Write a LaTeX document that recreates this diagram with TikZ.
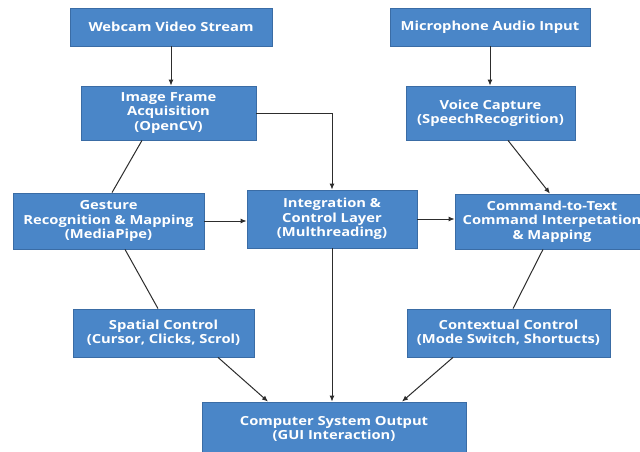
\documentclass[tikz,border=0pt]{standalone}
\usepackage{fontspec}
\setmainfont[FakeStretch=1.18]{Open Sans}
\usetikzlibrary{arrows.meta,calc}
\definecolor{boxfill}{RGB}{74,134,200}
\definecolor{boxline}{RGB}{58,108,165}
\definecolor{linecol}{RGB}{45,45,45}
\tikzset{
  blk/.style={draw=boxline, line width=0.8pt, fill=boxfill, text=white, align=center,
    font=\bfseries\fontsize{12.5}{14.3}\selectfont, inner sep=0pt, anchor=center},
  conn/.style={draw=linecol, line width=1pt},
  arr/.style={conn, -{Latex[length=6pt,width=5pt]}}
}
\begin{document}
\begin{tikzpicture}[x=1pt,y=-1pt]
\clip (0,0) rectangle (640,452);
\fill[white] (0,0) rectangle (640,452);
\node[blk, minimum width=202pt, minimum height=38pt] (webcam) at (171,27) {Webcam Video Stream};
\node[blk, minimum width=175pt, minimum height=54pt] (image) at (168.5,113) {Image Frame\\Acquisition\\(OpenCV)};
\node[blk, minimum width=200pt, minimum height=38pt] (mic) at (490,27) {Microphone Audio Input};
\node[blk, minimum width=169pt, minimum height=54pt] (voice) at (490.5,113) {Voice Capture\\(SpeechRecogrition)};
\node[blk, minimum width=191pt, minimum height=56pt] (gesture) at (108.5,221) {Gesture\\Recognition \& Mapping\\(MediaPipe)};
\node[blk, minimum width=170pt, minimum height=58pt] (integ) at (332,219) {Integration \&\\Control Layer\\(Multhreading)};
\node[blk, minimum width=194pt, minimum height=55pt] (command) at (552,221.5) {Command-to-Text\\Command Interpetation\\\& Mapping};
\node[blk, minimum width=181pt, minimum height=48pt] (spatial) at (163.5,333) {Spatial Control\\(Cursor, Clicks, Scrol)};
\node[blk, minimum width=203pt, minimum height=48pt] (context) at (508.5,333) {Contextual Control\\(Mode Switch, Shortucts)};
\node[blk, minimum width=264pt, minimum height=54pt] (computer) at (334,429) {Computer System Output\\(GUI Interaction)};

\draw[arr] (webcam.south) -- (webcam.south |- image.north);
\draw[arr] (mic.south) -- (mic.south |- voice.north);
\draw[arr] (image.east) -| (integ.north);
\draw[conn] ([xshift=-26.5pt]image.south) -- ([xshift=3.5pt]gesture.north);
\draw[arr] (gesture.east) -- (gesture.east -| integ.west);
\draw[arr] (integ.east) -- (integ.east -| command.west);
\draw[arr] ([xshift=17.5pt]voice.south) -- ([xshift=-2pt]command.north);
\draw[conn] ([xshift=-9pt]command.south) -- ([xshift=4.5pt]context.north);
\draw[conn] ([xshift=16.5pt]gesture.south) -- ([xshift=-5.5pt]spatial.north);
\draw[arr] ([xshift=54.5pt]spatial.south) -- ([xshift=-66pt]computer.north);
\draw[arr] ([xshift=-55.5pt]context.south) -- ([xshift=68pt]computer.north);
\draw[arr] (integ.south) -- (integ.south |- computer.north);
\end{tikzpicture}
\end{document}
